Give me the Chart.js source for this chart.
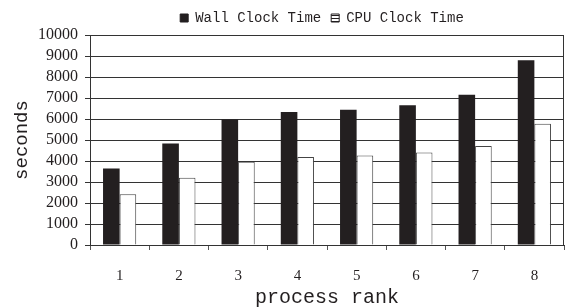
<!DOCTYPE html>
<html>
<head>
<meta charset="utf-8">
<script src="https://cdn.jsdelivr.net/npm/chart.js"></script>
<style>
  html, body { margin: 0; padding: 0; background: #fff; }
  #wrap { width: 571px; height: 308px; }
</style>
</head>
<body>
<div id="wrap"><canvas id="chart" width="571" height="308"></canvas></div>
<script>
// Chart data
const ranks = ["1", "2", "3", "4", "5", "6", "7", "8"];
const wallClock = [3640, 4830, 5980, 6330, 6440, 6650, 7160, 8800];
const cpuClock = [2420, 3200, 3970, 4190, 4260, 4400, 4720, 5770];
const seriesNames = ["Wall Clock Time", "CPU Clock Time"];
const yMin = 0;
const yMax = 10000;
const yStep = 1000;

const ink = "#231f20";
const serif = "Liberation Serif";
const mono = "Liberation Mono";

// striped swatch for the CPU legend box
function stripePattern() {
  const c = document.createElement("canvas");
  c.width = 1;
  c.height = 3;
  const g = c.getContext("2d");
  g.fillStyle = "#fff";
  g.fillRect(0, 0, 1, 3);
  g.fillStyle = ink;
  g.fillRect(0, 0, 1, 1);
  return g.createPattern(c, "repeat");
}

// frame round the plot, and nudge the legend over the plot
const framePlugin = {
  id: "frame",
  afterLayout(chart) {
    chart.legend.left += 40;
    chart.legend.right += 40;
  },
  afterDatasetsDraw(chart) {
    const { left, top, right, bottom } = chart.chartArea;
    const ctx = chart.ctx;
    ctx.save();
    ctx.strokeStyle = "#333";
    ctx.lineWidth = 1;
    ctx.beginPath();
    ctx.moveTo(Math.round(left) + 0.5, Math.round(top) + 0.5);
    ctx.lineTo(Math.round(right) - 0.5, Math.round(top) + 0.5);
    ctx.lineTo(Math.round(right) - 0.5, Math.round(bottom) + 0.5);
    ctx.stroke();
    ctx.restore();
  }
};

new Chart(document.getElementById("chart"), {
  type: "bar",
  data: {
    labels: ranks,
    datasets: [
      {
        label: seriesNames[0],
        data: wallClock,
        backgroundColor: ink,
        borderColor: ink,
        borderWidth: 0,
        categoryPercentage: 0.56,
        barPercentage: 1.0
      },
      {
        label: seriesNames[1],
        data: cpuClock,
        backgroundColor: "#fff",
        borderColor: "#444",
        borderWidth: 1,
        categoryPercentage: 0.56,
        barPercentage: 1.0
      }
    ]
  },
  options: {
    responsive: false,
    animation: false,
    devicePixelRatio: 1,
    layout: { padding: { top: 1, right: 7, bottom: 0, left: 0 } },
    plugins: {
      tooltip: { enabled: false },
      legend: {
        position: "top",
        align: "center",
        labels: {
          color: ink,
          font: { family: mono, size: 14 },
          boxWidth: 8,
          boxHeight: 8,
          padding: 10,
          generateLabels(chart) {
            return chart.data.datasets.map((ds, i) => ({
              text: ds.label,
              fillStyle: i === 0 ? ink : stripePattern(),
              strokeStyle: ink,
              lineWidth: 1,
              hidden: false,
              datasetIndex: i,
              fontColor: ink
            }));
          }
        }
      }
    },
    scales: {
      x: {
        grid: {
          display: true,
          drawOnChartArea: false,
          offset: true,
          tickLength: 5,
          color: "#555"
        },
        border: { display: true, color: "#333" },
        ticks: {
          color: ink,
          font: { family: serif, size: 15 },
          padding: 17
        },
        title: {
          display: true,
          text: "process rank",
          color: ink,
          font: { family: mono, size: 20, lineHeight: 1 },
          padding: { top: 4, bottom: 0 }
        },
        afterFit(scale) {
          scale.height = 63;
        }
      },
      y: {
        min: yMin,
        max: yMax,
        grid: {
          color: "#333",
          lineWidth: 1,
          tickLength: 5
        },
        border: { display: true, color: "#333" },
        ticks: {
          stepSize: yStep,
          autoSkip: false,
          color: ink,
          font: { family: serif, size: 16 },
          padding: 7,
          callback: (v) => String(v)
        },
        title: {
          display: true,
          text: "seconds",
          color: ink,
          font: { family: mono, size: 19, lineHeight: 1 },
          padding: { top: 12, bottom: 0 }
        },
        afterFit(scale) {
          scale.width = 90;
        }
      }
    }
  },
  plugins: [framePlugin]
});
</script>
</body>
</html>
